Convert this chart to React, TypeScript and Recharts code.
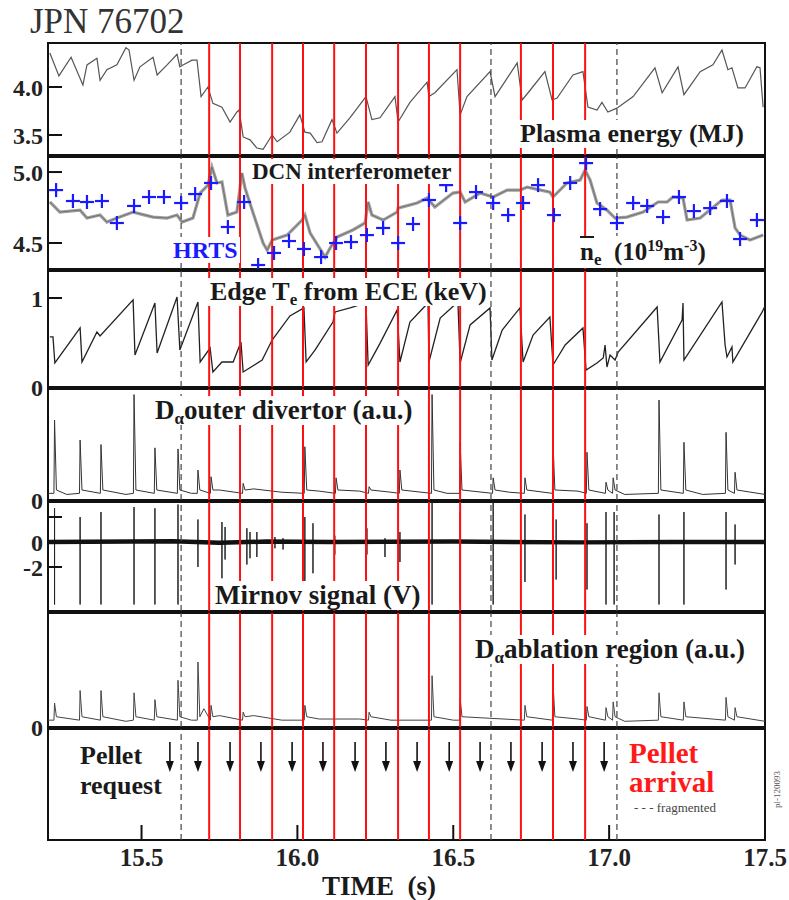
import React from 'react';
import { ComposedChart, Line, Scatter, XAxis, YAxis, ReferenceLine, ReferenceArea } from 'recharts';

const FONT = '"Liberation Serif", "Times New Roman", serif';
const T_MIN = 15.2;
const T_MAX = 17.5;
const AXIS_X = 48;
const timeTicks = [15.5, 16.0, 16.5, 17.0, 17.5];

// pellet timing (s)
const pelletArrival = [15.717, 15.816, 15.919, 16.018, 16.118, 16.22, 16.323, 16.422, 16.522, 16.717, 16.82, 16.923];
const pelletFragmented = [15.627, 16.621, 17.025];
const pelletRequest = [15.591, 15.681, 15.784, 15.883, 15.983, 16.082, 16.185, 16.284, 16.384, 16.487, 16.586, 16.685, 16.785, 16.884, 16.984];

type Pt = [number, number];

// plasma energy (MJ)
const energy: Pt[] = [
  [15.206, 4.354], [15.235, 4.115], [15.274, 4.31], [15.312, 4.02], [15.325, 4.23], [15.357, 4.3], [15.367, 4.07],
  [15.389, 4.18], [15.421, 4.23], [15.45, 4.41], [15.46, 4.385], [15.476, 4.07], [15.495, 4.21], [15.537, 4.31],
  [15.55, 4.125], [15.582, 4.23], [15.614, 4.34], [15.623, 4.21], [15.633, 4.23], [15.662, 4.28], [15.678, 4.28],
  [15.691, 3.9], [15.713, 4.0], [15.729, 3.83], [15.758, 3.79], [15.784, 3.635], [15.806, 3.74], [15.813, 3.76],
  [15.826, 3.48], [15.848, 3.45], [15.87, 3.365], [15.89, 3.35], [15.919, 3.5], [15.935, 3.43], [15.976, 3.53],
  [16.008, 3.71], [16.024, 3.53], [16.041, 3.52], [16.063, 3.42], [16.079, 3.43], [16.111, 3.66], [16.127, 3.52],
  [16.169, 3.68], [16.22, 3.9], [16.239, 3.66], [16.265, 3.68], [16.313, 3.9], [16.323, 3.635], [16.361, 3.84],
  [16.416, 4.05], [16.422, 3.9], [16.441, 3.94], [16.512, 4.18], [16.522, 3.71], [16.544, 3.9], [16.618, 4.16],
  [16.634, 3.9], [16.705, 4.25], [16.721, 3.865], [16.74, 3.94], [16.794, 4.16], [16.817, 3.865], [16.833, 3.885],
  [16.884, 4.125], [16.916, 4.16], [16.932, 3.79], [16.961, 3.76], [16.977, 3.84], [16.996, 3.74], [17.025, 3.78],
  [17.077, 3.9], [17.147, 4.2], [17.17, 3.94], [17.221, 4.21], [17.24, 3.92], [17.292, 4.16], [17.333, 4.23],
  [17.362, 4.385], [17.381, 4.18], [17.394, 4.2], [17.413, 3.99], [17.436, 3.99], [17.474, 4.21], [17.484, 4.2],
  [17.494, 3.79],
];

// line-averaged density, DCN (1e19 m^-3)
const dcn: Pt[] = [
  [15.206, 4.789], [15.238, 4.718], [15.303, 4.732], [15.325, 4.676], [15.367, 4.697], [15.389, 4.648], [15.421, 4.676],
  [15.473, 4.718], [15.537, 4.683], [15.582, 4.676], [15.614, 4.697], [15.63, 4.648], [15.665, 4.676], [15.688, 4.852],
  [15.713, 4.908], [15.726, 5.035], [15.742, 4.923], [15.758, 4.93], [15.777, 4.697], [15.806, 4.718], [15.822, 4.993],
  [15.832, 4.887], [15.858, 4.711], [15.89, 4.5], [15.903, 4.45], [15.919, 4.521], [15.967, 4.556], [16.015, 4.662],
  [16.024, 4.697], [16.041, 4.57], [16.089, 4.401], [16.105, 4.465], [16.127, 4.542], [16.178, 4.592], [16.217, 4.641],
  [16.227, 4.789], [16.239, 4.697], [16.275, 4.662], [16.32, 4.718], [16.323, 4.746], [16.384, 4.782], [16.416, 4.817],
  [16.441, 4.754], [16.499, 4.852], [16.522, 4.859], [16.538, 4.789], [16.586, 4.852], [16.628, 4.824], [16.673, 4.873],
  [16.714, 4.873], [16.737, 4.894], [16.81, 4.859], [16.82, 4.824], [16.865, 4.923], [16.907, 4.944], [16.923, 5.014],
  [16.939, 4.944], [16.961, 4.782], [16.993, 4.732], [17.019, 4.676], [17.057, 4.683], [17.109, 4.718], [17.157, 4.789],
  [17.186, 4.789], [17.205, 4.824], [17.237, 4.817], [17.25, 4.662], [17.292, 4.676], [17.362, 4.803], [17.388, 4.803],
  [17.404, 4.606], [17.42, 4.556], [17.452, 4.521], [17.494, 4.556],
];

// HRTS density points
const hrts: Pt[] = [
  [15.226, 4.873], [15.28, 4.796], [15.325, 4.789], [15.373, 4.796], [15.421, 4.641], [15.476, 4.761], [15.524, 4.824],
  [15.572, 4.824], [15.627, 4.782], [15.672, 4.845], [15.723, 4.923], [15.777, 4.613], [15.829, 4.789], [15.874, 4.345],
  [15.925, 4.43], [15.973, 4.514], [16.021, 4.458], [16.076, 4.401], [16.124, 4.5], [16.172, 4.507], [16.223, 4.556],
  [16.275, 4.606], [16.323, 4.5], [16.371, 4.634], [16.422, 4.803], [16.477, 4.908], [16.522, 4.641], [16.573, 4.859],
  [16.628, 4.782], [16.676, 4.697], [16.724, 4.782], [16.772, 4.908], [16.823, 4.697], [16.875, 4.923], [16.926, 5.063],
  [16.971, 4.739], [17.025, 4.641], [17.077, 4.782], [17.122, 4.761], [17.173, 4.683], [17.224, 4.824], [17.272, 4.725],
  [17.324, 4.746], [17.378, 4.796], [17.42, 4.528], [17.474, 4.662],
];

// edge Te from ECE (keV)
const edgeTe: Pt[] = [
  [15.206, 0.562], [15.216, 0.562], [15.222, 0.27], [15.303, 0.663], [15.309, 0.281], [15.357, 0.618], [15.367, 0.573],
  [15.473, 0.978], [15.479, 0.36], [15.543, 0.944], [15.55, 0.382], [15.614, 1.011], [15.623, 0.416], [15.681, 0.955],
  [15.688, 0.281], [15.72, 0.438], [15.729, 0.169], [15.758, 0.281], [15.794, 0.281], [15.819, 0.506], [15.826, 0.169],
  [15.887, 0.303], [15.919, 0.528], [15.976, 0.798], [16.021, 0.888], [16.028, 0.281], [16.057, 0.416], [16.114, 0.73],
  [16.121, 0.843], [16.169, 0.888], [16.22, 0.944], [16.227, 0.247], [16.265, 0.49], [16.32, 0.865], [16.329, 0.281],
  [16.361, 0.73], [16.419, 0.944], [16.422, 0.281], [16.458, 0.775], [16.515, 0.955], [16.522, 0.27], [16.554, 0.697],
  [16.618, 0.888], [16.624, 0.303], [16.657, 0.64], [16.714, 0.888], [16.724, 0.281], [16.756, 0.584], [16.81, 0.787],
  [16.82, 0.247], [16.859, 0.472], [16.916, 0.663], [16.926, 0.191], [16.961, 0.27], [16.981, 0.326], [16.987, 0.472],
  [16.993, 0.225], [17.003, 0.36], [17.019, 0.303], [17.029, 0.393], [17.154, 0.899], [17.163, 0.281], [17.234, 0.753],
  [17.237, 0.944], [17.24, 0.303], [17.362, 0.955], [17.372, 0.472], [17.378, 0.337], [17.394, 0.449], [17.397, 0.281],
  [17.491, 0.843], [17.5, 0.91],
];

// D-alpha outer divertor (a.u.): ELM peaks and background
const divertorSpikes: Pt[] = [
  [15.221, 0.72], [15.303, 0.54], [15.37, 0.5], [15.476, 0.95], [15.543, 0.47], [15.617, 0.46], [15.681, 0.27],
  [15.723, 0.21], [15.826, 0.15], [16.024, 0.48], [16.124, 0.2], [16.23, 0.12], [16.329, 0.27], [16.432, 0.95],
  [16.522, 0.52], [16.628, 0.2], [16.73, 0.2], [16.82, 0.52], [16.929, 0.43], [16.99, 0.16], [17.013, 0.2],
  [17.16, 0.9], [17.24, 0.52], [17.375, 0.61], [17.404, 0.25],
];
const divertorBase: Pt[] = [
  [15.2, 0.06], [15.26, 0.05], [15.45, 0.05], [15.66, 0.06], [15.75, 0.09], [15.86, 0.1], [15.95, 0.07], [16.07, 0.08],
  [16.2, 0.08], [16.3, 0.07], [16.48, 0.06], [16.68, 0.07], [16.9, 0.08], [17.05, 0.05], [17.3, 0.05], [17.5, 0.05],
];

// Mirnov signal (V): [time, positive excursion, negative excursion]
const mirnovSpikes: [number, number, number][] = [
  [15.221, 2.7, -5.0], [15.303, 2.0, -5.0], [15.37, 2.4, -5.0], [15.476, 2.8, -5.0], [15.543, 2.7, -5.0],
  [15.617, 3.0, -5.0], [15.681, 1.8, -2.0], [15.758, 1.6, -2.9], [15.768, 1.2, -1.4], [15.838, 1.1, -1.8],
  [15.848, 0.8, -1.3], [15.87, 0.8, -1.2], [15.928, 0.4, -0.5], [15.954, 0.3, -0.6], [16.024, 2.0, -3.4],
  [16.05, 1.5, -2.5], [16.12, 0.5, -1.0], [16.223, 1.1, -1.0], [16.281, 0.3, -1.2], [16.329, 0.8, -1.6],
  [16.432, 3.2, -5.0], [16.522, 2.4, -5.0], [16.628, 3.2, -5.0], [16.73, 2.2, -3.2], [16.83, 1.8, -3.0],
  [16.929, 1.5, -3.8], [16.99, 2.4, -5.0], [17.016, 2.4, -5.0], [17.16, 2.2, -5.0], [17.24, 2.4, -5.0],
  [17.375, 2.4, -3.8], [17.404, 1.4, -1.8],
];
const mirnovBand: Pt[] = [
  [15.2, 0.0], [15.6, 0.05], [15.75, -0.05], [15.9, 0.03], [16.1, 0.0], [16.5, 0.04], [16.9, -0.03], [17.2, 0.0], [17.5, 0.0],
];

// D-alpha ablation region (a.u.)
const ablationSpikes: Pt[] = [
  [15.221, 0.21], [15.303, 0.32], [15.37, 0.32], [15.476, 0.3], [15.543, 0.24], [15.617, 0.41], [15.681, 0.57],
  [15.723, 0.19], [15.826, 0.13], [16.024, 0.19], [16.23, 0.13], [16.432, 0.45], [16.522, 0.25], [16.73, 0.19],
  [16.82, 0.39], [16.929, 0.18], [16.99, 0.17], [17.013, 0.22], [17.16, 0.3], [17.24, 0.22], [17.375, 0.26],
  [17.404, 0.17],
];
const ablationBase: Pt[] = [
  [15.2, 0.06], [15.45, 0.05], [15.66, 0.06], [15.7, 0.16], [15.75, 0.1], [15.86, 0.1], [15.95, 0.06], [16.07, 0.07],
  [16.2, 0.07], [16.3, 0.06], [16.5, 0.06], [16.9, 0.07], [17.05, 0.05], [17.5, 0.05],
];

const toRows = (pts: Pt[]) => pts.map(([t, v]) => ({ t, v }));

const spikeRows = (spikes: Pt[], base: Pt[], foot: number) => {
  const rows = toRows(base);
  spikes.forEach(([t, h]) => {
    rows.push({ t: t - 0.002, v: foot }, { t, v: h }, { t: t + 0.006, v: foot + 0.03 });
  });
  return rows.sort((a, b) => a.t - b.t);
};

const mirnovRows = () => {
  const rows: { t: number; v: number }[] = [];
  mirnovSpikes.forEach(([t, up, down]) => {
    rows.push({ t, v: 0 }, { t, v: up }, { t, v: down }, { t, v: 0 });
  });
  return rows;
};

const requestRows = pelletRequest.map((t) => ({ t, v: 0.748 }));

const makeYTick = (fmt: (v: number) => string) => (props: any) => {
  const { y, payload } = props;
  const label = fmt(payload.value);
  return (
    <g>
      <line x1={AXIS_X} x2={AXIS_X + 14} y1={y} y2={y} stroke="#111" strokeWidth={2} />
      {label && (
        <text x={AXIS_X - 5} y={y} dy="0.36em" textAnchor="end" fontFamily={FONT} fontWeight="bold" fontSize={24} fill="#222">
          {label}
        </text>
      )}
    </g>
  );
};

const XTick = (props: any) => {
  const { x, y, payload } = props;
  return (
    <g>
      {payload.value < T_MAX && <line x1={x} x2={x} y1={y} y2={y - 15} stroke="#111" strokeWidth={2} />}
      <text x={x} y={y + 26} textAnchor="middle" fontFamily={FONT} fontWeight="bold" fontSize={25} fill="#222">
        {payload.value.toFixed(1)}
      </text>
    </g>
  );
};

const Cross = (props: any) => {
  const { cx, cy } = props;
  return (
    <g>
      <line x1={cx - 7} x2={cx + 7} y1={cy} y2={cy} stroke="#1a1aff" strokeWidth={2.2} />
      <line x1={cx} x2={cx} y1={cy - 7} y2={cy + 7} stroke="#1a1aff" strokeWidth={2.2} />
    </g>
  );
};

const Arrow = (props: any) => {
  const { cx, cy } = props;
  return (
    <g>
      <line x1={cx} x2={cx} y1={cy - 15} y2={cy + 8} stroke="#111" strokeWidth={1.6} />
      <path d={`M${cx - 4},${cy + 4} L${cx + 4},${cy + 4} L${cx},${cy + 15} Z`} fill="#111" />
    </g>
  );
};

const pelletLines = () => [
  ...pelletArrival.map((t) => (
    <ReferenceLine key={`a${t}`} x={t} stroke="#ff1010" strokeWidth={2} ifOverflow="hidden" />
  )),
  ...pelletFragmented.map((t) => (
    <ReferenceLine key={`f${t}`} x={t} stroke="#444" strokeWidth={1.2} strokeDasharray="6 4" ifOverflow="hidden" />
  )),
];

type PanelProps = {
  top: number;
  height: number;
  domain: [number, number];
  ticks?: number[];
  fmt?: (v: number) => string;
  timeAxis?: boolean;
  children?: React.ReactNode;
};

const Panel = ({ top, height, domain, ticks = [], fmt = (v) => String(v), timeAxis = false, children }: PanelProps) => (
  <div style={{ position: 'absolute', left: 0, top }}>
    <ComposedChart width={789} height={height + (timeAxis ? 60 : 0)} margin={{ top: 0, right: 24, bottom: 0, left: 0 }}>
      <XAxis
        type="number"
        dataKey="t"
        domain={[T_MIN, T_MAX]}
        allowDataOverflow
        hide={!timeAxis}
        ticks={timeTicks}
        tick={<XTick />}
        tickLine={false}
        axisLine={false}
        tickSize={0}
        tickMargin={0}
        height={timeAxis ? 60 : 0}
      />
      <YAxis
        type="number"
        dataKey="v"
        domain={domain}
        allowDataOverflow
        ticks={ticks}
        interval={0}
        tick={makeYTick(fmt)}
        tickLine={false}
        axisLine={false}
        tickSize={0}
        tickMargin={0}
        width={AXIS_X}
      />
      {children}
      {pelletLines()}
      <ReferenceArea
        x1={T_MIN}
        x2={T_MAX}
        y1={domain[0]}
        y2={domain[1]}
        fill="none"
        stroke="#111"
        strokeWidth={2}
        ifOverflow="visible"
      />
    </ComposedChart>
  </div>
);

const labelBase: React.CSSProperties = {
  position: 'absolute',
  background: '#fff',
  fontFamily: FONT,
  fontWeight: 'bold',
  lineHeight: 1,
  whiteSpace: 'nowrap',
  color: '#1a1a1a',
  padding: '1px 2px',
};

const sub = (size: number, drop: number): React.CSSProperties => ({ fontSize: size, position: 'relative', top: drop, verticalAlign: 'baseline' });

export default function App() {
  return (
    <div style={{ position: 'absolute', left: 0, top: 0, width: 789, height: 900, background: '#fff', overflow: 'hidden' }}>
      <style>{'.recharts-surface{overflow:visible}'}</style>
      <div style={{ position: 'absolute', left: 30, top: 2, fontFamily: FONT, fontSize: 35, color: '#333' }}>JPN 76702</div>

      <Panel top={43} height={112} domain={[3.292, 4.458]} ticks={[4.0, 3.5]} fmt={(v) => v.toFixed(1)}>
        <Line data={toRows(energy)} dataKey="v" type="linear" stroke="#555" strokeWidth={1.2} dot={false} isAnimationActive={false} />
      </Panel>

      <Panel top={157} height={112} domain={[4.317, 5.106]} ticks={[5.0, 4.5]} fmt={(v) => v.toFixed(1)}>
        <Line data={toRows(dcn)} dataKey="v" type="linear" stroke="#a0a0a0" strokeWidth={3.2} dot={false} isAnimationActive={false} />
        <Line data={toRows(dcn)} dataKey="v" type="linear" stroke="#666" strokeWidth={0.8} dot={false} isAnimationActive={false} />
        <Scatter data={toRows(hrts)} dataKey="v" shape={<Cross />} isAnimationActive={false} />
      </Panel>

      <Panel top={271} height={116} domain={[0, 1.303]} ticks={[1, 0]} fmt={(v) => String(v)}>
        <Line data={toRows(edgeTe)} dataKey="v" type="linear" stroke="#222" strokeWidth={1.3} dot={false} isAnimationActive={false} />
      </Panel>

      <Panel top={389} height={111} domain={[0, 1]} ticks={[0]} fmt={() => '0'}>
        <Line data={spikeRows(divertorSpikes, divertorBase, 0.06)} dataKey="v" type="linear" stroke="#333" strokeWidth={1} dot={false} isAnimationActive={false} />
      </Panel>

      <Panel top={502} height={109} domain={[-5.52, 3.2]} ticks={[2, 0, -2]} fmt={(v) => (v === 2 ? '' : String(v))}>
        <Line data={mirnovRows()} dataKey="v" type="linear" stroke="#222" strokeWidth={1} dot={false} isAnimationActive={false} />
        <Line data={toRows(mirnovBand)} dataKey="v" type="linear" stroke="#111" strokeWidth={4.5} dot={false} isAnimationActive={false} />
      </Panel>

      <Panel top={613} height={114} domain={[0, 1]} ticks={[0]} fmt={() => '0'}>
        <Line data={spikeRows(ablationSpikes, ablationBase, 0.06)} dataKey="v" type="linear" stroke="#444" strokeWidth={1} dot={false} isAnimationActive={false} />
      </Panel>

      <Panel top={729} height={111} domain={[0, 1]} timeAxis>
        <Scatter data={requestRows} dataKey="v" shape={<Arrow />} isAnimationActive={false} />
      </Panel>

      <div style={{ ...labelBase, left: 518, top: 120, fontSize: 26 }}>Plasma energy (MJ)</div>
      <div style={{ ...labelBase, left: 250, top: 159, fontSize: 23 }}>DCN interferometer</div>
      <div style={{ ...labelBase, left: 171, top: 237, fontSize: 24, color: '#1a1aff' }}>HRTS</div>
      <div style={{ ...labelBase, left: 578, top: 236, fontSize: 25, paddingTop: 3, paddingBottom: 4 }}>
        <span style={{ borderTop: '2px solid #1a1a1a' }}>n</span>
        <span style={sub(17, 5)}>e</span>&nbsp;&nbsp;(10<span style={sub(16, -9)}>19</span>m<span style={sub(16, -9)}>-3</span>)
      </div>
      <div style={{ ...labelBase, left: 208, top: 278, fontSize: 26 }}>
        Edge T<span style={sub(17, 5)}>e</span> from ECE (keV)
      </div>
      <div style={{ ...labelBase, left: 153, top: 396, fontSize: 27 }}>
        D<span style={sub(17, 5)}>α</span>outer divertor (a.u.)
      </div>
      <div style={{ ...labelBase, left: 213, top: 581, fontSize: 27 }}>Mirnov signal (V)</div>
      <div style={{ ...labelBase, left: 473, top: 635, fontSize: 27 }}>
        D<span style={sub(17, 5)}>α</span>ablation region (a.u.)
      </div>

      <div style={{ ...labelBase, background: 'none', left: 78, top: 740, fontSize: 26, lineHeight: '30px' }}>
        Pellet
        <br />
        request
      </div>
      <div style={{ ...labelBase, background: 'none', left: 627, top: 738, fontSize: 29, lineHeight: '29px', color: '#ff1a1a' }}>
        Pellet
        <br />
        arrival
      </div>
      <div style={{ ...labelBase, background: 'none', left: 632, top: 800, fontSize: 13, fontWeight: 'normal', color: '#444' }}>
        - - - fragmented
      </div>
      <div style={{ ...labelBase, background: 'none', left: 320, top: 872, fontSize: 27 }}>TIME&nbsp;&nbsp;(s)</div>
      <div
        style={{
          position: 'absolute',
          left: 772,
          top: 808,
          fontFamily: FONT,
          fontSize: 9,
          color: '#555',
          transform: 'rotate(-90deg)',
          transformOrigin: 'left top',
          whiteSpace: 'nowrap',
        }}
      >
        pl-120093
      </div>
    </div>
  );
}
